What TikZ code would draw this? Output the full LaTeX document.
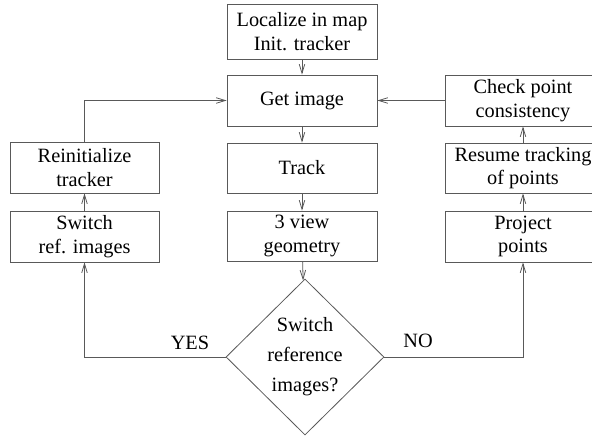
\documentclass[tikz,border=0pt]{standalone}
\usepackage{fontspec}
\setmainfont{Liberation Serif}
\usetikzlibrary{arrows.meta,shapes.geometric}
\begin{document}
\begin{tikzpicture}[x=1pt,y=-1pt,
  every node/.style={font=\fontsize{20.3pt}{23.5pt}\selectfont, text=black, align=center},
  box/.style={draw=black!65, line width=0.8pt, inner sep=0pt},
  conn/.style={draw=black!65, line width=0.8pt, -{Straight Barb[length=9pt,width=5.5pt,line width=0.8pt]}},
  lbl/.style={font=\fontsize{20.3pt}{23.5pt}\selectfont}
]
\clip (0,0) rectangle (592,437);
\useasboundingbox (0,0) rectangle (592,437);
\fill[white] (0,0) rectangle (592,437);

\node[box, minimum width=150pt, minimum height=55pt] (loc) at (302,31.5) {Localize in map\\Init. tracker};
\node[box, minimum width=150pt, minimum height=51pt] (get) at (302,100.5) {Get image};
\node[box, minimum width=150pt, minimum height=50pt] (track) at (302,168) {Track};
\node[box, minimum width=150pt, minimum height=50pt] (geo) at (302,236) {3 view\\geometry};

\node[box, minimum width=149pt, minimum height=51pt] (reinit) at (84.5,167.5) {Reinitialize\\tracker};
\node[box, minimum width=149pt, minimum height=51pt] (switchref) at (84.5,236.5) {Switch\\ref. images};

\node[box, minimum width=156pt, minimum height=51pt] (check) at (523,100.5) {Check point\\consistency};
\node[box, minimum width=156pt, minimum height=50pt] (resume) at (523,168) {Resume tracking\\of points};
\node[box, minimum width=156pt, minimum height=51pt] (project) at (523,236.5) {Project\\points};

\node[draw=black!65, line width=0.8pt, diamond, aspect=1, inner sep=0pt,
      minimum width=158pt, minimum height=156pt,
      font=\fontsize{20.3pt}{30pt}\selectfont] (dec) at (305,357) {Switch\\reference\\images?};

\draw[conn] (loc) -- (get);
\draw[conn] (get) -- (track);
\draw[conn] (track) -- (geo);
\draw[conn] (geo) -- (dec);

\coordinate (yescorner) at (84.5,357);
\coordinate (nocorner) at (523,357);
\draw[conn] (dec.west) -- (yescorner) -- (switchref.south);
\draw[conn] (switchref) -- (reinit);
\draw[conn] (reinit.north) |- (get.west);

\draw[conn] (dec.east) -- (nocorner) -- (project.south);
\draw[conn] (project) -- (resume);
\draw[conn] (resume) -- (check);
\draw[conn] (check) -- (get);

\node[lbl] (yes) at (190,343) {YES};
\node[lbl] (no) at (418,341) {NO};
\end{tikzpicture}
\end{document}
